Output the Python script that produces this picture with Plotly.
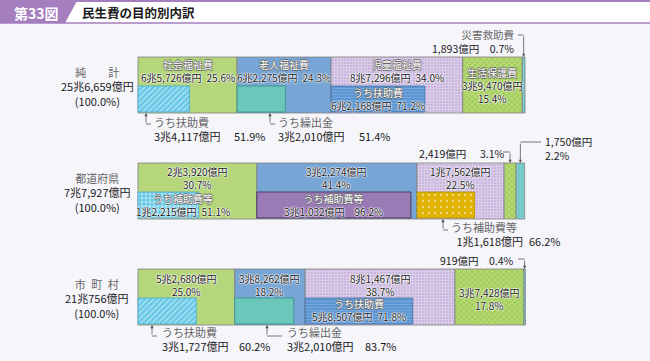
import plotly.graph_objects as go

# ---------------- data ----------------
rows = ["純計", "都道府県", "市町村"]
row_totals = ["25兆6,659億円", "7兆7,927億円", "21兆756億円"]
categories = ["社会福祉費", "老人福祉費", "児童福祉費", "生活保護費", "災害救助費"]

pct_junkei = [25.6, 24.3, 34.0, 15.4, 0.7]
pct_pref = [30.7, 41.4, 22.5, 3.1, 2.2]
pct_muni = [25.0, 18.2, 38.7, 17.8, 0.4]

amt_junkei = ["6兆5,726億円", "6兆2,275億円", "8兆7,296億円", "3兆9,470億円", "1,893億円"]
amt_pref = ["2兆3,920億円", "3兆2,274億円", "1兆7,562億円", "2,419億円", "1,750億円"]
amt_muni = ["5兆2,680億円", "3兆8,262億円", "8兆1,467億円", "3兆7,428億円", "919億円"]

sub_name_junkei = ["うち扶助費", "うち繰出金", "うち扶助費"]
sub_name_pref = ["うち補助費等", "うち補助費等", "うち補助費等"]
sub_name_muni = ["うち扶助費", "うち繰出金", "うち扶助費"]

sub_pct_junkei = [51.9, 51.4, 71.2]
sub_pct_pref = [51.1, 96.2, 66.2]
sub_pct_muni = [60.2, 83.7, 71.8]

sub_amt_junkei = ["3兆4,117億円", "3兆2,010億円", "6兆2,168億円"]
sub_amt_pref = ["1兆2,215億円", "3兆1,032億円", "1兆1,618億円"]
sub_amt_muni = ["3兆1,727億円", "3兆2,010億円", "5兆8,507億円"]

pct_rows = [pct_junkei, pct_pref, pct_muni]
sub_pct_rows = [sub_pct_junkei, sub_pct_pref, sub_pct_muni]

# ---------------- geometry helpers ----------------
W, H = 650, 361
X0, X100 = 138, 525
K = (X100 - X0) / 100.0
ROW0, STEP = 85, 106


def X(px):
    return (px - X0) / K


def Y(py):
    return (py - ROW0) / STEP


THICK = 56 / STEP
SUB_T = 26 / STEP
SUB_OFF = 14 / STEP

FONT = "Noto Sans CJK JP, Noto Sans, sans-serif"

main_styles = [
    dict(color="#b5d67b"),
    dict(color="#77a5d5"),
    dict(color="#cbb8de", pattern=dict(shape="+", fgcolor="#f3eef8", size=3, solidity=0.4)),
    dict(color="#a6cf5e", pattern=dict(shape="x", fgcolor="#dcefb5", size=4, solidity=0.35)),
    dict(color="#6cc6c8", pattern=dict(shape=".", fgcolor="#a8dfe2", size=3, solidity=0.3)),
]
hatch = dict(color="#66c8e6", pattern=dict(shape="/", fgcolor="#ffffff", size=4, solidity=0.35), line=dict(color="#4aa8cc", width=0.8))
checker = dict(color="#66c8e6", pattern=dict(shape=".", fgcolor="#ffffff", size=4, solidity=0.45), line=dict(color="#4aa8cc", width=0.8))
teal = dict(color="#6cc7bb", line=dict(color="#3f9a90", width=1))
purple = dict(color="#9b7bb6", line=dict(color="#4d3d5e", width=1))
bstripe = dict(color="#5b93d1", pattern=dict(shape="-", fgcolor="#8fb9e8", size=3, solidity=0.4), line=dict(color="#3f70a8", width=0.8))
ydots = dict(color="#e0b400", pattern=dict(shape=".", fgcolor="#ffffff", size=6, solidity=0.12), line=dict(color="#b08d00", width=0.8))
sub_styles = [[hatch, teal, bstripe], [checker, purple, ydots], [hatch, teal, bstripe]]

fig = go.Figure()
lefts_rows = []
for r, pcts in enumerate(pct_rows):
    lefts = []
    acc = 0.0
    for i, p in enumerate(pcts):
        lefts.append(acc)
        st = dict(main_styles[i])
        st["line"] = dict(color="#808080", width=0.8)
        fig.add_trace(go.Bar(orientation="h", y=[r], x=[p], base=[acc], width=[THICK],
                             marker=st, showlegend=False, hoverinfo="skip"))
        acc += p
    lefts_rows.append(lefts)
    for i, sp in enumerate(sub_pct_rows[r]):
        w = pcts[i] * sp / 100.0
        fig.add_trace(go.Bar(orientation="h", y=[r + SUB_OFF], x=[w], base=[lefts[i]], width=[SUB_T],
                             marker=sub_styles[r][i], showlegend=False, hoverinfo="skip"))

# ---------------- text helpers ----------------
HALO_W = "0 0 1.5px #fff, 0 0 1.5px #fff, 0 0 1.5px #fff, 0 0 1.5px #fff"
HALO_D = "0.7px 0 0 #666, -0.7px 0 0 #666, 0 0.7px 0 #666, 0 -0.7px 0 #666"
SP = "\u2002"


def nm(s):
    return f"<span style='color:#ffffff;text-shadow:{HALO_D}'>{s}</span>"


def gr(s):
    return f"<span style='color:#666666'>{s}</span>"


def txt(px, py, s, kind="num", anchor="center", size=10.5):
    if kind == "num":
        f = dict(family=FONT, size=size, color="#1a1a1a", shadow=HALO_W)
    else:
        f = dict(family=FONT, size=size, color="#1a1a1a")
    fig.add_annotation(x=X(px), y=Y(py), text=s, showarrow=False, xanchor=anchor,
                       yanchor="middle", font=f, xref="x", yref="y", align=anchor)


def arrow(xd, y_tail, y_head):
    fig.add_annotation(x=xd, y=Y(y_head), ax=xd, ay=Y(y_tail), axref="x", ayref="y",
                       xref="x", yref="y", text="", showarrow=True, arrowhead=2,
                       arrowsize=0.8, arrowwidth=0.8, arrowcolor="#555", standoff=0)


def hline(xd0, xd1, py):
    fig.add_shape(type="line", x0=xd0, x1=xd1, y0=Y(py), y1=Y(py), xref="x", yref="y",
                  line=dict(color="#555", width=0.8))


def seg(r, i):
    l = lefts_rows[r][i]
    return l, l + pct_rows[r][i], X0 + (l + pct_rows[r][i] / 2) * K


def subc(r, i):
    l = lefts_rows[r][i]
    return X0 + (l + pct_rows[r][i] * sub_pct_rows[r][i] / 200.0) * K


# ---------------- row 0 : 純計 ----------------
for i in range(3):
    c = seg(0, i)[2]
    txt(c, 71, f"{nm(categories[i])}<br>{amt_junkei[i]}{SP}{pct_junkei[i]:.1f}%", size=10)
txt(subc(0, 2), 98.5, f"{nm(sub_name_junkei[2])}<br>{sub_amt_junkei[2]}{SP}{sub_pct_junkei[2]:.1f}%", size=10)
c = seg(0, 3)[2]
txt(c, 85.5, f"{nm(categories[3])}<br>{amt_junkei[3]}<br>{pct_junkei[3]:.1f}%", size=10)
l, rr, c = seg(0, 4)
txt(516, 41.5, f"{gr(categories[4])}<br>{amt_junkei[4]}{SP}{SP}{pct_junkei[4]:.1f}%", "plain", anchor="right")
hline(X(518), (l + rr) / 2, 35)
arrow((l + rr) / 2, 35, 57)
# below
arrow(X(146), 124, 113)
hline(X(146), X(151), 124)
txt(152, 129, f"{gr(sub_name_junkei[0])}<br>{sub_amt_junkei[0]}", "plain", anchor="left", size=11)
txt(232, 136.2, f"{sub_pct_junkei[0]:.1f}%", "plain", anchor="left", size=11)
arrow(X(270), 124, 113)
hline(X(270), X(275), 124)
txt(276, 129, f"{gr(sub_name_junkei[1])}<br>{sub_amt_junkei[1]}", "plain", anchor="left", size=11)
txt(357, 136.2, f"{sub_pct_junkei[1]:.1f}%", "plain", anchor="left", size=11)

# ---------------- row 1 : 都道府県 ----------------
for i in range(3):
    c = seg(1, i)[2]
    txt(c, 178, f"{amt_pref[i]}<br>{pct_pref[i]:.1f}%", size=10)
txt(183, 205, f"{nm(sub_name_pref[0])}<br>{sub_amt_pref[0]}{SP}{sub_pct_pref[0]:.1f}%", size=10)
txt(subc(1, 1), 205, f"{nm(sub_name_pref[1])}<br>{sub_amt_pref[1]}{SP}{SP}{sub_pct_pref[1]:.1f}%", size=10)
arrow(X(443), 230, 219)
hline(X(443), X(448), 230)
txt(449, 234, f"{gr(sub_name_pref[2])}<br>{SP}{sub_amt_pref[2]}", "plain", anchor="left", size=11)
txt(527, 241.2, f"{sub_pct_pref[2]:.1f}%", "plain", anchor="left", size=11)
l, rr, c = seg(1, 3)
txt(417, 153, amt_pref[3], "plain", anchor="left")
txt(478, 153, f"{pct_pref[3]:.1f}%", "plain", anchor="left")
hline(X(503), (l + rr) / 2, 152)
arrow((l + rr) / 2, 152, 163)
l, rr, c = seg(1, 4)
txt(543, 148.5, f"{amt_pref[4]}<br>{pct_pref[4]:.1f}%", "plain", anchor="left", size=10.5)
hline(X(541), (l + rr) / 2, 142)
arrow((l + rr) / 2, 142, 163)

# ---------------- row 2 : 市町村 ----------------
for i in range(3):
    c = seg(2, i)[2]
    txt(c, 284.5, f"{amt_muni[i]}<br>{pct_muni[i]:.1f}%", size=10)
txt(subc(2, 2), 310, f"{nm(sub_name_muni[2])}<br>{sub_amt_muni[2]}{SP}{sub_pct_muni[2]:.1f}%", size=10)
c = seg(2, 3)[2]
txt(c, 299, f"{amt_muni[3]}<br>{pct_muni[3]:.1f}%", size=10)
l, rr, c = seg(2, 4)
txt(516, 260, f"{amt_muni[4]}{SP}{SP}{pct_muni[4]:.1f}%", "plain", anchor="right")
hline(X(518), (l + rr) / 2, 259)
arrow((l + rr) / 2, 259, 269)
arrow(X(152), 336, 325)
hline(X(152), X(157), 336)
txt(160, 339, f"{gr(sub_name_muni[0])}<br>{sub_amt_muni[0]}", "plain", anchor="left", size=11)
txt(237, 346.2, f"{sub_pct_muni[0]:.1f}%", "plain", anchor="left", size=11)
arrow(X(267), 336, 325)
hline(X(267), X(282), 336)
txt(285, 339, f"{gr(sub_name_muni[1])}<br>{sub_amt_muni[1]}", "plain", anchor="left", size=11)
txt(363, 346.2, f"{sub_pct_muni[1]:.1f}%", "plain", anchor="left", size=11)

# ---------------- left labels ----------------
left_names = ["\u2003\u2003".join(rows[0]), rows[1], "\u2002".join(rows[2])]
for r, py in enumerate([85, 191, 297]):
    txt(97, py + 1, f"{gr(left_names[r])}<br>{row_totals[r]}<br>(100.0%)", "plain", size=11)

# ---------------- header ----------------
fig.add_shape(type="rect", xref="paper", yref="paper", x0=0, x1=1, y0=1 - 23 / H, y1=1 - 1 / H,
              fillcolor="#ffffff", line=dict(width=0), layer="below")
fig.add_shape(type="path", xref="paper", yref="paper",
              path=f"M 0,{1 - 1 / H} L {77 / W},{1 - 1 / H} L {65 / W},{1 - 23 / H} L 0,{1 - 23 / H} Z",
              fillcolor="#a47ebf", line=dict(width=0))
fig.add_shape(type="line", xref="paper", yref="paper", x0=0, x1=1, y0=1 - 1 / H, y1=1 - 1 / H,
              line=dict(color="#a47ebf", width=2))
fig.add_shape(type="line", xref="paper", yref="paper", x0=0, x1=1, y0=1 - 23 / H, y1=1 - 23 / H,
              line=dict(color="#a47ebf", width=1.5))
fig.add_annotation(xref="paper", yref="paper", x=36 / W, y=1 - 12.5 / H, text="第33図",
                   showarrow=False, xanchor="center", yanchor="middle",
                   font=dict(family=FONT, size=14, color="#ffffff", weight=600))
fig.add_annotation(xref="paper", yref="paper", x=80 / W, y=1 - 12.5 / H, text="<b>民生費の目的別内訳</b>",
                   showarrow=False, xanchor="left", yanchor="middle",
                   font=dict(family=FONT, size=12.5, color="#1a1a1a"))

fig.update_layout(
    width=W, height=H, margin=dict(l=0, r=0, t=0, b=0),
    paper_bgcolor="#f5f5fa", plot_bgcolor="rgba(0,0,0,0)",
    barmode="overlay", showlegend=False,
    xaxis=dict(range=[X(0), X(W)], visible=False, fixedrange=True),
    yaxis=dict(range=[Y(H), Y(0)], visible=False, fixedrange=True),
    font=dict(family=FONT),
)
fig.write_html("out.html", config={"displayModeBar": False},
               post_script="document.body.style.margin='0';document.body.style.background='#f5f5fa';")
